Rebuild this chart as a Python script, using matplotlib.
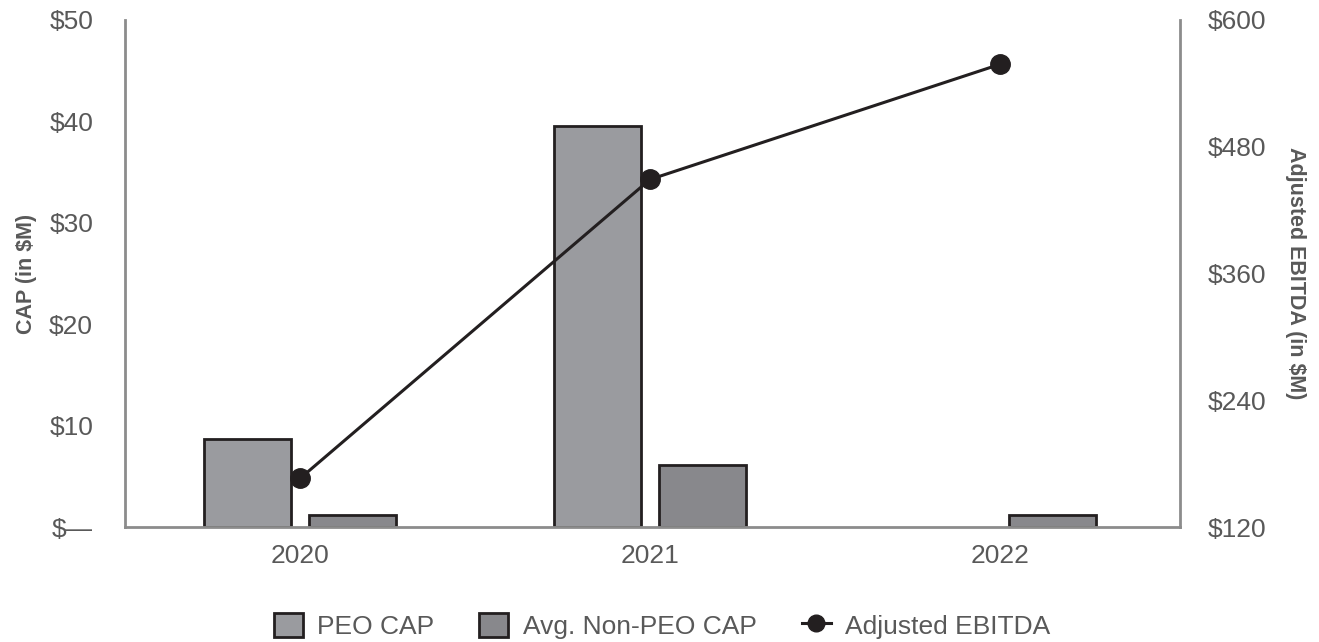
import matplotlib.pyplot as plt
import numpy as np
from matplotlib.ticker import FuncFormatter
from matplotlib.lines import Line2D
from matplotlib.patches import Patch

plt.rcParams['font.family'] = ['Liberation Sans', 'DejaVu Sans']

years = ["2020", "2021", "2022"]
peo_cap = [8.7, 39.5, 0.0]
non_peo_cap = [1.2, 6.1, 1.2]
ebitda = [166, 449, 558]

txt = "#595959"
spine = "#8c8c8c"
edge = "#231f20"
c_peo = "#9a9b9f"
c_non = "#88888c"

fig = plt.figure(figsize=(13.19, 6.42), dpi=100)
ax = fig.add_axes([0.0948, 0.179, 0.80, 0.79])
x = np.arange(len(years))
w = 0.25
ax.bar(x - 0.15, peo_cap, w, color=c_peo, edgecolor=edge,
       linewidth=[2 if v else 0 for v in peo_cap])
ax.bar(x + 0.15, non_peo_cap, w, color=c_non, edgecolor=edge,
       linewidth=[2 if v else 0 for v in non_peo_cap])
ax.set_xlim(-0.5, 2.515)
ax.set_ylim(0, 50)
ax.set_yticks([0, 10, 20, 30, 40, 50])
ax.yaxis.set_major_formatter(FuncFormatter(lambda v, p: "$\u2014" if v == 0 else "$%d" % v))
ax.set_xticks(x)
ax.set_xticklabels(years)
ax.tick_params(axis='y', length=0, pad=23, labelsize=19, labelcolor=txt)
ax.tick_params(axis='x', length=0, pad=12, labelsize=19, labelcolor=txt)
ax.set_ylabel("CAP (in $M)", fontsize=15.5, fontweight='bold', color=txt, labelpad=9)
for s in ['top', 'right']:
    ax.spines[s].set_visible(False)
for s in ['left', 'bottom']:
    ax.spines[s].set_color(spine)
    ax.spines[s].set_linewidth(2)
    ax.spines[s].set_zorder(3)

ax2 = ax.twinx()
ax2.plot(x, ebitda, color=edge, linewidth=2.2, marker='o', markersize=14)
ax2.set_ylim(120, 600)
ax2.set_yticks([120, 240, 360, 480, 600])
ax2.yaxis.set_major_formatter(FuncFormatter(lambda v, p: "$%d" % v))
ax2.tick_params(axis='y', length=0, pad=20, labelsize=19, labelcolor=txt)
ax2.set_ylabel("Adjusted EBITDA (in $M)", fontsize=15.5, fontweight='bold', color=txt,
               rotation=270, labelpad=28)
for s in ['top', 'left', 'bottom']:
    ax2.spines[s].set_visible(False)
ax2.spines['right'].set_color(spine)
ax2.spines['right'].set_linewidth(2)

handles = [Patch(facecolor=c_peo, edgecolor=edge, linewidth=2),
           Patch(facecolor=c_non, edgecolor=edge, linewidth=2),
           Line2D([], [], color=edge, linewidth=2.2, marker='o', markersize=12)]
fig.legend(handles, ["PEO CAP", "Avg. Non-PEO CAP", "Adjusted EBITDA"],
           loc='center', bbox_to_anchor=(0.502, 0.025), ncol=3, frameon=False,
           fontsize=19, labelcolor=txt, handlelength=1.1, handleheight=1.05,
           columnspacing=1.7, handletextpad=0.55, borderpad=0)

plt.savefig("out.png", dpi=100)
